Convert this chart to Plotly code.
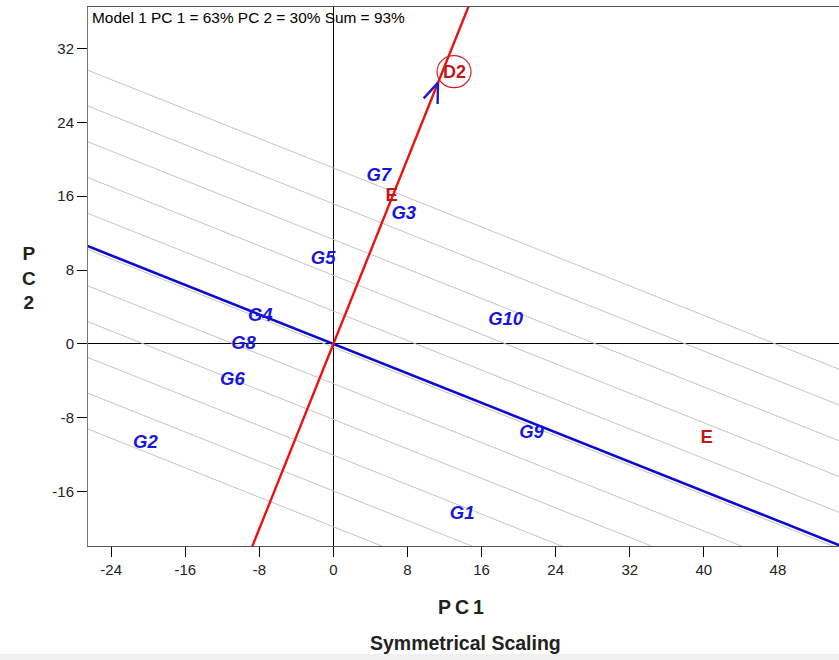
import numpy as np
import plotly.graph_objects as go

# ---- data ----
genotypes = ["G1", "G2", "G3", "G4", "G5", "G6", "G7", "G8", "G9", "G10"]
geno_pc1 = [13.9, -20.3, 7.6, -7.9, -1.1, -10.9, 4.9, -9.7, 21.4, 18.6]
geno_pc2 = [-18.5, -10.8, 14.0, 3.0, 9.2, -4.0, 18.2, 0.0, -9.7, 2.5]

env_labels = ["E", "E"]
env_pc1 = [6.3, 40.3]
env_pc2 = [16.0, -10.2]

focus_env = "D2"
focus_pc1 = 11.3
focus_pc2 = 28.3

# projection levels (along the D2 axis) of the grey ranking lines
rank_levels = [-18.4, -14.8, -11.2, -7.6, -4.0, -0.35, 3.3, 6.9, 10.5, 14.1, 17.7]

x_ticks = [-24, -16, -8, 0, 8, 16, 24, 32, 40, 48]
y_ticks = [-16, -8, 0, 8, 16, 24, 32]

x_range = [-26.5, 54.6]
y_range = [-21.9, 36.5]

title_txt = "Model 1 PC 1 = 63% PC 2 = 30% Sum = 93%"

# ---- geometry derived from the D2 vector ----
d = np.array([focus_pc1, focus_pc2])
u = d / np.linalg.norm(d)          # axis direction
v = np.array([-u[1], u[0]])        # perpendicular direction
t = np.array([-120.0, 120.0])

FONT = "Liberation Sans, Arial, sans-serif"
NARROW = "Liberation Sans Narrow, Arial Narrow, Liberation Sans, Arial, sans-serif"

fig = go.Figure()

for c in rank_levels:
    p0 = c * u + t[0] * v
    p1 = c * u + t[1] * v
    fig.add_trace(go.Scatter(x=[p0[0], p1[0]], y=[p0[1], p1[1]], mode="lines",
                             line=dict(color="#c4c4c4", width=1), hoverinfo="skip",
                             showlegend=False))

# blue line (perpendicular through origin)
fig.add_trace(go.Scatter(x=list(t * v[0]), y=list(t * v[1]), mode="lines",
                         line=dict(color="#0a0ad2", width=2.6), showlegend=False))
# red axis line through origin and D2
fig.add_trace(go.Scatter(x=list(t * u[0]), y=list(t * u[1]), mode="lines",
                         line=dict(color="#ee1111", width=2.4), showlegend=False))

# blue arrow head at D2
ang = np.arctan2(u[1], u[0]) + np.pi
L = 2.3
b1 = d + L * np.array([np.cos(ang - 0.36), np.sin(ang - 0.36)])
b2 = d + L * np.array([np.cos(ang + 0.36), np.sin(ang + 0.36)])
fig.add_trace(go.Scatter(x=[b1[0], d[0], b2[0]], y=[b1[1], d[1], b2[1]], mode="lines",
                         line=dict(color="#1a1ad6", width=2.4), showlegend=False))

# genotype labels
fig.add_trace(go.Scatter(x=geno_pc1, y=geno_pc2, mode="text", text=genotypes,
                         textposition="middle center",
                         textfont=dict(family=FONT, size=18.5, color="#1616e0",
                                       weight="bold", style="italic"),
                         showlegend=False))
# environment labels
fig.add_trace(go.Scatter(x=env_pc1, y=env_pc2, mode="text", text=env_labels,
                         textposition="middle center",
                         textfont=dict(family=FONT, size=18.5, color="#c01818", weight="bold"),
                         showlegend=False))

# D2 label with circle
fig.add_annotation(x=focus_pc1, y=focus_pc2, text="<b>D2</b>", showarrow=False,
                   xshift=16, yshift=11, font=dict(family=FONT, size=18, color="#c01818"))
fig.add_shape(type="circle", xref="x", yref="y", xsizemode="pixel", ysizemode="pixel",
              xanchor=focus_pc1, yanchor=focus_pc2, x0=16 - 17, x1=16 + 17,
              y0=11 - 16, y1=11 + 16, line=dict(color="#d42020", width=1.2))

# title in the plot
fig.add_annotation(xref="paper", yref="paper", x=0.002, y=0.981, xanchor="left",
                   yanchor="middle", text=title_txt, showarrow=False,
                   font=dict(family=FONT, size=15.4, color="black"))
# axis titles
fig.add_annotation(xref="paper", yref="paper", x=0.497, y=-0.113,
                   text="<b>P\u2009C\u20091</b>",
                   showarrow=False, yanchor="middle",
                   font=dict(family=FONT, size=19.5, color="#222"))
fig.add_annotation(xref="paper", yref="paper", x=0.503, y=-0.18,
                   text="<b>Symmetrical Scaling</b>", showarrow=False, yanchor="middle",
                   font=dict(family=FONT, size=19.5, color="#222"))
fig.add_annotation(xref="paper", yref="paper", x=-0.0905, y=0.497,
                   text="<b>P<br>C<br>2</b>", showarrow=False, yanchor="middle",
                   font=dict(family=FONT, size=19, color="#222"))

# light strip at page bottom
fig.add_shape(type="rect", xref="paper", yref="paper", x0=-0.12, x1=1.0,
              y0=-0.2115, y1=-0.2004, line=dict(width=0), fillcolor="#f0f0f0",
              layer="below")

fig.update_xaxes(range=x_range, tickmode="array", tickvals=x_ticks,
                 ticktext=[str(v_) for v_ in x_ticks], ticks="outside", ticklen=10,
                 tickcolor="black", tickwidth=1, showgrid=False, zeroline=True,
                 zerolinecolor="black", zerolinewidth=1, showline=True,
                 linecolor="#555", linewidth=1, mirror=True,
                 tickfont=dict(family=NARROW, size=15, color="#222"))
fig.update_yaxes(range=y_range, tickmode="array", tickvals=y_ticks,
                 ticktext=[str(v_) for v_ in y_ticks], ticks="outside", ticklen=10,
                 tickcolor="black", tickwidth=1, showgrid=False, zeroline=True,
                 zerolinecolor="black", zerolinewidth=1, showline=True,
                 linecolor="#777", linewidth=1,
                 tickfont=dict(family=NARROW, size=15, color="#222"))

fig.update_layout(width=839, height=660, margin=dict(l=88, r=0, t=7, b=114),
                  plot_bgcolor="white", paper_bgcolor="white", showlegend=False)

fig.write_html("out.html", config={"displayModeBar": False},
               post_script="document.body.style.margin='0';document.body.style.overflow='hidden';")
